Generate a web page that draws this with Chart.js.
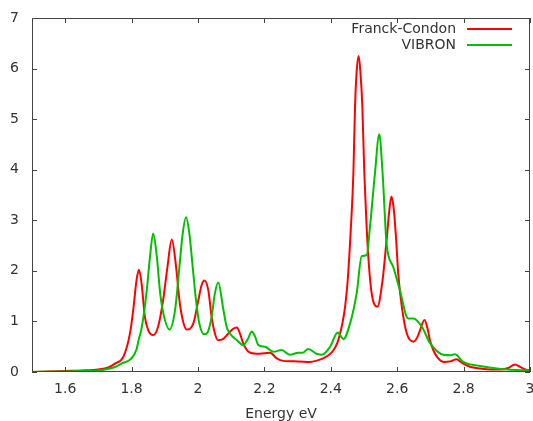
<!DOCTYPE html>
<html>
<head>
<meta charset="utf-8">
<script src="https://cdn.jsdelivr.net/npm/chart.js@4"></script>
<style>
  body { margin: 0; background: #fff; }
  #wrap { width: 533px; height: 421px; }
</style>
</head>
<body>
<div id="wrap"><canvas id="spectrum"></canvas></div>
<script>
// Franck-Condon curve (energy eV, intensity)
const fcEnergy = [1.50, 1.55, 1.60, 1.65, 1.70, 1.73, 1.751, 1.775, 1.795, 1.805, 1.815, 1.822, 1.830, 1.840, 1.850,
    1.865, 1.880, 1.895, 1.908, 1.921, 1.934, 1.944, 1.954, 1.966, 1.986, 2.001, 2.011, 2.019, 2.031, 2.041,
    2.051, 2.060, 2.075, 2.090, 2.105, 2.117, 2.127, 2.136, 2.152, 2.177, 2.200, 2.217, 2.237, 2.257, 2.300,
    2.337, 2.360, 2.377, 2.395, 2.408, 2.420, 2.428, 2.436, 2.443, 2.451, 2.460, 2.468, 2.473, 2.478, 2.484,
    2.489, 2.495, 2.501, 2.507, 2.513, 2.523, 2.540, 2.556, 2.568, 2.578, 2.583, 2.590, 2.597, 2.603, 2.614,
    2.629, 2.649, 2.660, 2.669, 2.682, 2.690, 2.699, 2.709, 2.720, 2.739, 2.760, 2.779, 2.795, 2.819, 2.850,
    2.880, 2.910, 2.935, 2.955, 2.970, 2.990, 3.000];
const fcValues = [0.00, 0.01, 0.02, 0.03, 0.05, 0.09, 0.17, 0.30, 0.76, 1.23, 1.82, 2.02, 1.75, 1.09, 0.83,
    0.73, 0.90, 1.42, 2.08, 2.62, 2.08, 1.42, 1.03, 0.84, 0.96, 1.42, 1.72, 1.81, 1.62, 1.09,
    0.76, 0.63, 0.65, 0.75, 0.85, 0.88, 0.75, 0.57, 0.40, 0.36, 0.37, 0.38, 0.27, 0.22, 0.21,
    0.20, 0.23, 0.27, 0.34, 0.43, 0.58, 0.76, 1.00, 1.29, 1.82, 2.80, 3.93, 5.25, 5.95, 6.25,
    5.95, 5.25, 3.93, 3.00, 2.28, 1.56, 1.29, 1.82, 2.61, 3.30, 3.47, 3.20, 2.60, 1.95, 1.29,
    0.76, 0.60, 0.68, 0.83, 1.03, 0.90, 0.62, 0.43, 0.30, 0.20, 0.21, 0.25, 0.18, 0.105, 0.07,
    0.05, 0.05, 0.08, 0.15, 0.10, 0.04, 0.03];

// VIBRON curve
const vibEnergy = [1.50, 1.60, 1.65, 1.70, 1.72, 1.75, 1.771, 1.798, 1.815, 1.821, 1.829, 1.838, 1.847, 1.855, 1.865,
    1.876, 1.886, 1.898, 1.914, 1.931, 1.944, 1.954, 1.964, 1.974, 1.984, 1.994, 2.004, 2.019, 2.030, 2.041,
    2.051, 2.061, 2.076, 2.086, 2.096, 2.117, 2.136, 2.150, 2.162, 2.172, 2.182, 2.202, 2.227, 2.252, 2.277,
    2.302, 2.315, 2.332, 2.357, 2.373, 2.398, 2.421, 2.438, 2.458, 2.478, 2.493, 2.508, 2.518, 2.533, 2.546,
    2.556, 2.568, 2.588, 2.608, 2.633, 2.649, 2.674, 2.699, 2.739, 2.760, 2.774, 2.799, 2.849, 2.900, 2.960,
    3.000];
const vibValues = [0.00, 0.01, 0.02, 0.03, 0.05, 0.10, 0.17, 0.26, 0.45, 0.63, 0.83, 1.20, 1.70, 2.25, 2.74,
    2.28, 1.56, 1.09, 0.84, 1.23, 2.08, 2.74, 3.06, 2.74, 2.08, 1.42, 0.96, 0.745, 0.80, 1.09,
    1.56, 1.77, 1.25, 0.90, 0.76, 0.63, 0.53, 0.65, 0.80, 0.70, 0.53, 0.50, 0.40, 0.435, 0.34,
    0.38, 0.38, 0.455, 0.36, 0.34, 0.50, 0.78, 0.65, 0.96, 1.56, 2.29, 2.31, 2.87, 3.93, 4.70,
    3.93, 2.54, 2.08, 1.62, 1.06, 1.06, 0.90, 0.57, 0.34, 0.33, 0.35, 0.20, 0.12, 0.07, 0.04,
    0.03];

const xTickValues = [1.6, 1.8, 2.0, 2.2, 2.4, 2.6, 2.8, 3.0];
const yTickValues = [0, 1, 2, 3, 4, 5, 6, 7];
const seriesNames = ['Franck-Condon', 'VIBRON'];
const seriesColors = ['#ff0000', '#00c000'];

const textColor = '#333';
const borderColor = '#444';
const fontSpec = { family: 'DejaVu Sans', size: 14 };

function toPoints(xs, ys) {
    return xs.map((x, i) => ({ x: x, y: ys[i] }));
}

// gnuplot style frame with inward ticks on all four sides
const frameTicks = {
    id: 'frameTicks',
    afterDraw(chart) {
        const ctx = chart.ctx;
        const area = chart.chartArea;
        const xs = chart.scales.x;
        const ys = chart.scales.y;
        const len = 5;
        ctx.save();
        ctx.strokeStyle = borderColor;
        ctx.lineWidth = 1;
        ctx.strokeRect(area.left + 0.5, area.top + 0.5, area.right - area.left - 1, area.bottom - area.top - 1);
        ctx.beginPath();
        xTickValues.forEach((v) => {
            const px = Math.round(xs.getPixelForValue(v)) + 0.5;
            ctx.moveTo(px, area.bottom);
            ctx.lineTo(px, area.bottom - len);
            ctx.moveTo(px, area.top);
            ctx.lineTo(px, area.top + len);
        });
        yTickValues.forEach((v) => {
            const py = Math.round(ys.getPixelForValue(v)) + 0.5;
            ctx.moveTo(area.left, py);
            ctx.lineTo(area.left + len, py);
            ctx.moveTo(area.right, py);
            ctx.lineTo(area.right - len, py);
        });
        ctx.stroke();
        ctx.restore();
    }
};

// key in the top right corner, text right aligned before the sample line
const cornerKey = {
    id: 'cornerKey',
    afterDraw(chart) {
        const ctx = chart.ctx;
        ctx.save();
        ctx.font = fontSpec.size + 'px "' + fontSpec.family + '"';
        ctx.textAlign = 'right';
        ctx.textBaseline = 'middle';
        seriesNames.forEach((name, i) => {
            const y = 29 + i * 16;
            ctx.fillStyle = textColor;
            ctx.fillText(name, 456, y);
            ctx.strokeStyle = seriesColors[i];
            ctx.lineWidth = 2;
            ctx.beginPath();
            ctx.moveTo(467, y);
            ctx.lineTo(512, y);
            ctx.stroke();
        });
        ctx.restore();
    }
};

new Chart(document.getElementById('spectrum'), {
    type: 'line',
    data: {
        datasets: [
            {
                label: seriesNames[0],
                data: toPoints(fcEnergy, fcValues),
                borderColor: seriesColors[0],
                borderWidth: 2,
                pointRadius: 0,
                cubicInterpolationMode: 'monotone',
                fill: false,
                order: 1,
            },
            {
                label: seriesNames[1],
                data: toPoints(vibEnergy, vibValues),
                borderColor: seriesColors[1],
                borderWidth: 2,
                pointRadius: 0,
                cubicInterpolationMode: 'monotone',
                fill: false,
                order: 0,
            },
        ],
    },
    options: {
        responsive: true,
        maintainAspectRatio: false,
        animation: false,
        events: [],
        layout: { padding: { left: 0, right: 3, top: 18, bottom: 0 } },
        plugins: {
            legend: { display: false },
            tooltip: { enabled: false },
        },
        scales: {
            x: {
                type: 'linear',
                min: 1.5,
                max: 3,
                afterBuildTicks: (scale) => {
                    scale.ticks = xTickValues.map((v) => ({ value: v }));
                },
                afterFit: (scale) => {
                    scale.height = 49;
                    scale.paddingLeft = 0;
                    scale.paddingRight = 0;
                },
                grid: { display: false, drawTicks: false },
                border: { display: false },
                ticks: {
                    color: textColor,
                    font: fontSpec,
                    padding: 9,
                    maxRotation: 0,
                    autoSkip: false,
                    callback: (v) => String(Math.round(v * 10) / 10),
                },
                title: {
                    display: true,
                    text: 'Energy eV',
                    color: textColor,
                    font: fontSpec,
                    padding: { top: 9, bottom: -2 },
                },
            },
            y: {
                min: 0,
                max: 7,
                afterBuildTicks: (scale) => {
                    scale.ticks = yTickValues.map((v) => ({ value: v }));
                },
                afterFit: (scale) => {
                    scale.width = 32;
                    scale.paddingTop = 0;
                    scale.paddingBottom = 0;
                },
                grid: { display: false, drawTicks: false },
                border: { display: false },
                ticks: {
                    color: textColor,
                    font: fontSpec,
                    padding: 13,
                },
            },
        },
    },
    plugins: [frameTicks, cornerKey],
});
</script>
</body>
</html>
